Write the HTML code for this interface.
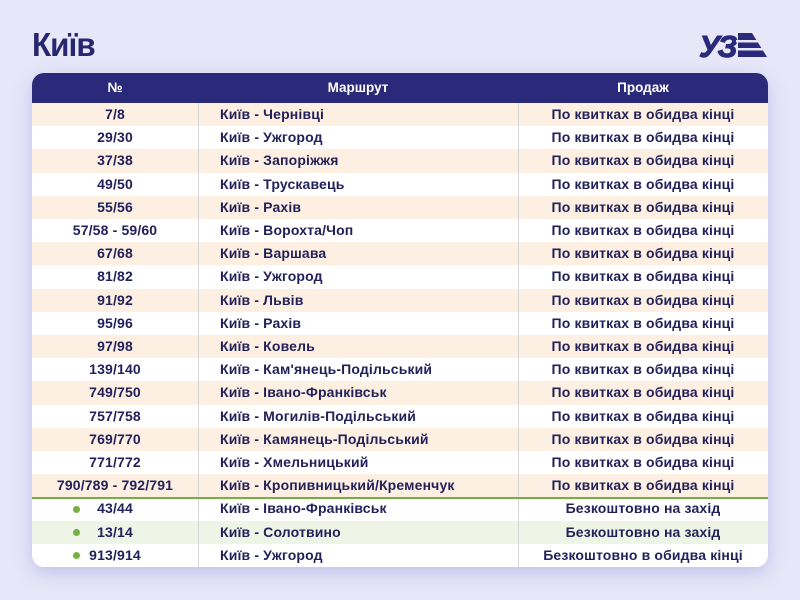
<!DOCTYPE html>
<html><head><meta charset="utf-8"><style>
html,body{margin:0;padding:0}
body{width:800px;height:600px;background:#e7e7f9;position:relative;overflow:hidden;font-family:"Liberation Sans","DejaVu Sans",sans-serif;color:#22215a}
.title{position:absolute;left:32px;top:26px;font-size:33px;font-weight:bold;color:#272671;letter-spacing:-1px;transform:scaleX(0.95);transform-origin:left top}
.card{position:absolute;left:32px;top:73px;width:736px;height:494px;border-radius:12px;background:#fff;overflow:hidden;box-shadow:0 6px 18px rgba(120,120,210,0.35)}
.hdr{position:absolute;left:0;top:0;width:736px;height:30px;background:#2b2a7a;color:#fff;font-weight:bold;font-size:13.5px}
.hdr div{position:absolute;top:0;line-height:30px;text-align:center}
.row{position:absolute;left:0;width:736px;height:23.2px;font-weight:bold;font-size:14px;letter-spacing:0.15px}
.row div{position:absolute;top:0;line-height:23.2px;white-space:nowrap}
.c1{left:0;width:166px;text-align:center}
.c2{left:188px}
.c3{left:486px;width:250px;text-align:center}
.p{background:#fdf0e2}
.g{background:#eff5e6}
.sep{position:absolute;top:30px;width:1px;height:464px;background:#d6d6d6}
.gl{position:absolute;left:0;top:424px;width:736px;height:2px;background:#78ad45}
.dot{position:absolute;left:41px;width:7px;height:7px;border-radius:50%;background:#78b040}
</style></head><body>
<div class="title">Київ</div>
<svg style="position:absolute;left:698px;top:31px" width="72" height="28" viewBox="0 0 72 28">
<text x="1" y="26" font-family="Liberation Sans, sans-serif" font-weight="bold" font-style="italic" font-size="31" fill="#2b2a7a" stroke="#2b2a7a" stroke-width="1" letter-spacing="-2">УЗ</text>
<polygon points="40,2 54,2 69,26 40,26" fill="#2b2a7a"/>
<rect x="38" y="9" width="34" height="2.5" fill="#e7e7f9"/>
<rect x="38" y="17" width="34" height="2.5" fill="#e7e7f9"/>
</svg>
<div class="card">
<div class="hdr"><div style="left:0;width:166px">№</div><div style="left:166px;width:320px">Маршрут</div><div style="left:486px;width:250px">Продаж</div></div>

<div class="row p" style="top:30px"><div class="c1">7/8</div><div class="c2">Київ - Чернівці</div><div class="c3">По квитках в обидва кінці</div></div>
<div class="row" style="top:53.2px"><div class="c1">29/30</div><div class="c2">Київ - Ужгород</div><div class="c3">По квитках в обидва кінці</div></div>
<div class="row p" style="top:76.4px"><div class="c1">37/38</div><div class="c2">Київ - Запоріжжя</div><div class="c3">По квитках в обидва кінці</div></div>
<div class="row" style="top:99.6px"><div class="c1">49/50</div><div class="c2">Київ - Трускавець</div><div class="c3">По квитках в обидва кінці</div></div>
<div class="row p" style="top:122.8px"><div class="c1">55/56</div><div class="c2">Київ - Рахів</div><div class="c3">По квитках в обидва кінці</div></div>
<div class="row" style="top:146px"><div class="c1">57/58 - 59/60</div><div class="c2">Київ - Ворохта/Чоп</div><div class="c3">По квитках в обидва кінці</div></div>
<div class="row p" style="top:169.2px"><div class="c1">67/68</div><div class="c2">Київ - Варшава</div><div class="c3">По квитках в обидва кінці</div></div>
<div class="row" style="top:192.4px"><div class="c1">81/82</div><div class="c2">Київ - Ужгород</div><div class="c3">По квитках в обидва кінці</div></div>
<div class="row p" style="top:215.6px"><div class="c1">91/92</div><div class="c2">Київ - Львів</div><div class="c3">По квитках в обидва кінці</div></div>
<div class="row" style="top:238.8px"><div class="c1">95/96</div><div class="c2">Київ - Рахів</div><div class="c3">По квитках в обидва кінці</div></div>
<div class="row p" style="top:262px"><div class="c1">97/98</div><div class="c2">Київ - Ковель</div><div class="c3">По квитках в обидва кінці</div></div>
<div class="row" style="top:285.2px"><div class="c1">139/140</div><div class="c2">Київ - Кам'янець-Подільський</div><div class="c3">По квитках в обидва кінці</div></div>
<div class="row p" style="top:308.4px"><div class="c1">749/750</div><div class="c2">Київ - Івано-Франківськ</div><div class="c3">По квитках в обидва кінці</div></div>
<div class="row" style="top:331.6px"><div class="c1">757/758</div><div class="c2">Київ - Могилів-Подільський</div><div class="c3">По квитках в обидва кінці</div></div>
<div class="row p" style="top:354.8px"><div class="c1">769/770</div><div class="c2">Київ - Камянець-Подільський</div><div class="c3">По квитках в обидва кінці</div></div>
<div class="row" style="top:378px"><div class="c1">771/772</div><div class="c2">Київ - Хмельницький</div><div class="c3">По квитках в обидва кінці</div></div>
<div class="row p" style="top:401.2px"><div class="c1">790/789 - 792/791</div><div class="c2">Київ - Кропивницький/Кременчук</div><div class="c3">По квитках в обидва кінці</div></div>
<div class="row" style="top:424.4px"><div class="c1">43/44</div><div class="c2">Київ - Івано-Франківськ</div><div class="c3">Безкоштовно на захід</div></div>
<div class="row g" style="top:447.6px"><div class="c1">13/14</div><div class="c2">Київ - Солотвино</div><div class="c3">Безкоштовно на захід</div></div>
<div class="row" style="top:470.8px"><div class="c1">913/914</div><div class="c2">Київ - Ужгород</div><div class="c3">Безкоштовно в обидва кінці</div></div>

<div class="sep" style="left:166px"></div>
<div class="sep" style="left:486px"></div>
<div class="gl"></div>
<div class="dot" style="top:432.5px"></div>
<div class="dot" style="top:455.7px"></div>
<div class="dot" style="top:478.9px"></div>
</div>
</body></html>
